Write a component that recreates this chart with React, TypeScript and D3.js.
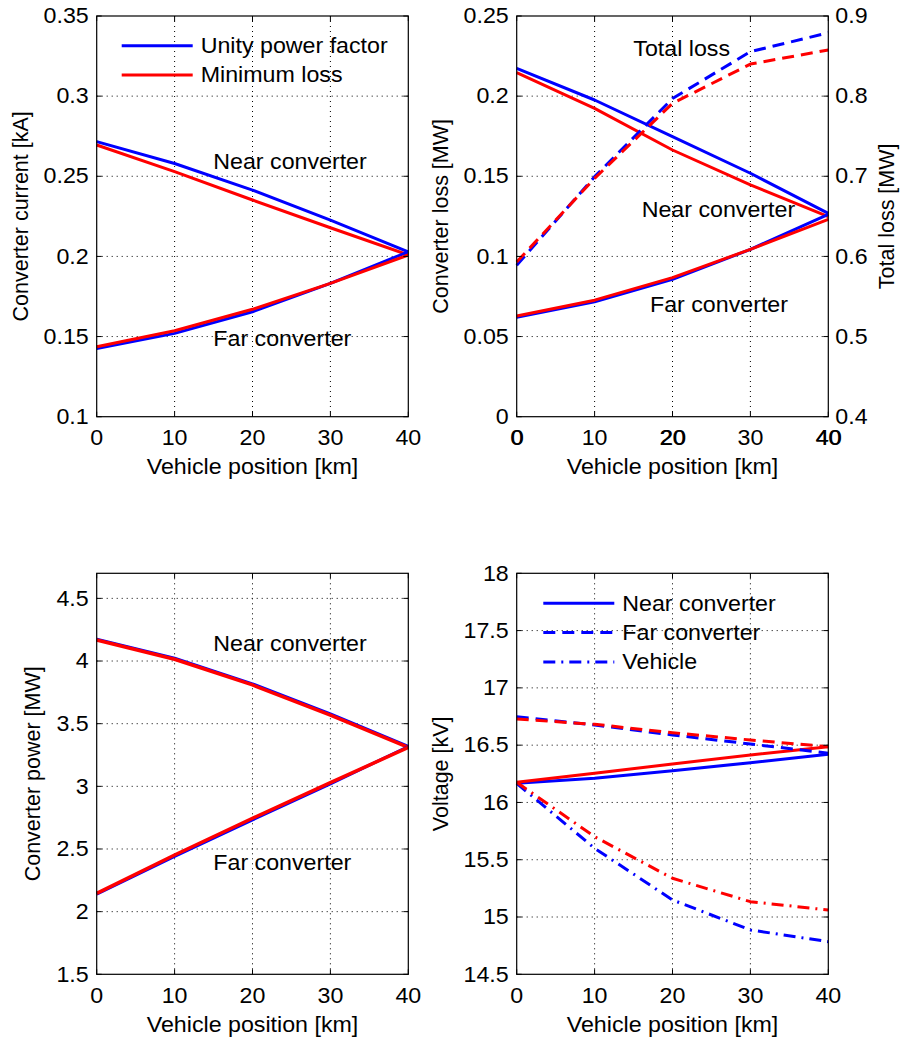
import * as d3 from 'd3';

// vehicle position [km]
const positions = [0, 10, 20, 30, 40];

// converter current [kA]
const currentNearUnity = [0.2716, 0.258, 0.2414, 0.2227, 0.2029];
const currentNearMinLoss = [0.2695, 0.2529, 0.2352, 0.2179, 0.2009];
const currentFarUnity = [0.1426, 0.152, 0.1655, 0.1832, 0.2029];
const currentFarMinLoss = [0.1436, 0.1536, 0.167, 0.1832, 0.2009];

// converter loss [MW]
const lossNearUnity = [0.2173, 0.1976, 0.1747, 0.1519, 0.1269];
const lossNearMinLoss = [0.2146, 0.1924, 0.1664, 0.1446, 0.1248];
const lossFarUnity = [0.062, 0.0717, 0.0857, 0.1044, 0.1262];
const lossFarMinLoss = [0.0628, 0.0727, 0.0868, 0.1044, 0.1231];
// total loss [MW] (right axis)
const totalLossUnity = [0.589, 0.6995, 0.797, 0.8555, 0.879];
const totalLossMinLoss = [0.593, 0.6974, 0.791, 0.84, 0.8576];

// converter power [MW]
const powerNearUnity = [4.175, 4.022, 3.818, 3.578, 3.318];
const powerNearMinLoss = [4.168, 4.014, 3.809, 3.569, 3.311];
const powerFarUnity = [2.14, 2.44, 2.732, 3.02, 3.318];
const powerFarMinLoss = [2.146, 2.452, 2.745, 3.029, 3.311];

// voltage [kV]
const voltNearUnity = [16.167, 16.211, 16.277, 16.347, 16.42];
const voltNearMinLoss = [16.176, 16.254, 16.336, 16.414, 16.487];
const voltFarUnity = [16.749, 16.676, 16.589, 16.51, 16.43];
const voltFarMinLoss = [16.728, 16.682, 16.609, 16.545, 16.487];
const voltVehicleUnity = [16.167, 15.6, 15.149, 14.887, 14.785];
const voltVehicleMinLoss = [16.176, 15.701, 15.338, 15.134, 15.061];

// tick labels
const xTicks = [0, 10, 20, 30, 40];
const currentTicks = [0.1, 0.15, 0.2, 0.25, 0.3, 0.35];
const lossTicks = [0, 0.05, 0.1, 0.15, 0.2, 0.25];
const totalLossTicks = [0.4, 0.5, 0.6, 0.7, 0.8, 0.9];
const totalLossXTicks = [0, 20, 40];
const powerTicks = [1.5, 2, 2.5, 3, 3.5, 4, 4.5];
const voltTicks = [14.5, 15, 15.5, 16, 16.5, 17, 17.5, 18];

const BLUE = '#0000ff';
const RED = '#ff0000';
const FONT = '"Liberation Sans", Arial, Helvetica, sans-serif';
const FS = 21.5;
const SX = 1.08; // reference text looks a bit wide
const DASH = '12,7';
const DASHDOT = '12,6,2,6';

type Series = { values: number[]; color: string; dash?: string; right?: boolean; width?: number };
type Note = { text: string; x: number; y: number };
type LegendItem = { text: string; dash?: string };

function Txt({ x, y, text, anchor = 'start' }: { x: number; y: number; text: string; anchor?: string }) {
  return (
    <text
      transform={`translate(${x},${y}) scale(${SX},1)`}
      textAnchor={anchor}
      dominantBaseline="central"
      fontFamily={FONT}
      fontSize={FS}
      fill="#000"
    >
      {text}
    </text>
  );
}

function Panel(props: {
  left: number; top: number; w: number; h: number;
  yDomain: [number, number]; yTicks: number[]; yLabel: string; yLabelX: number;
  rDomain?: [number, number]; rTicks?: number[]; rLabel?: string; rLabelX?: number; rxTicks?: number[];
  series: Series[]; notes: Note[]; legend?: LegendItem[]; legendColors?: string[];
  legendX?: number; legendY?: number;
}) {
  const { left, top, w, h } = props;
  const x = d3.scaleLinear().domain([0, 40]).range([left, left + w]);
  const y = d3.scaleLinear().domain(props.yDomain).range([top + h, top]);
  const yr = props.rDomain ? d3.scaleLinear().domain(props.rDomain).range([top + h, top]) : null;
  const fmt = (v: number) => String(+v.toFixed(2));
  const T = 5;

  return (
    <g>
      {/* grid */}
      {xTicks.slice(1, -1).map(t => (
        <line key={'gx' + t} x1={x(t)} x2={x(t)} y1={top} y2={top + h} stroke="#000" strokeWidth={1} strokeDasharray="1,4" />
      ))}
      {props.yTicks.filter(t => y(t) > top + 1 && y(t) < top + h - 1).map(t => (
        <line key={'gy' + t} x1={left} x2={left + w} y1={y(t)} y2={y(t)} stroke="#000" strokeWidth={1} strokeDasharray="1,4" />
      ))}

      {/* series */}
      {props.series.map((s, i) => {
        const sc = s.right && yr ? yr : y;
        const line = d3.line<number>().x((_, j) => x(positions[j])).y(v => sc(v));
        return (
          <path key={'s' + i} d={line(s.values) || ''} fill="none" stroke={s.color} strokeWidth={s.width || 3}
            strokeDasharray={s.dash} strokeLinejoin="round" />
        );
      })}

      {/* frame and ticks */}
      <rect x={left} y={top} width={w} height={h} fill="none" stroke="#000" strokeWidth={1.2} />
      {xTicks.map(t => (
        <g key={'tx' + t}>
          <line x1={x(t)} x2={x(t)} y1={top + h} y2={top + h - T} stroke="#000" />
          <line x1={x(t)} x2={x(t)} y1={top} y2={top + T} stroke="#000" />
          <Txt x={x(t)} y={top + h + 21} text={String(t)} anchor="middle" />
        </g>
      ))}
      {props.rxTicks && props.rxTicks.map(t => (
        <Txt key={'rx' + t} x={x(t) + 0.7} y={top + h + 21} text={String(t)} anchor="middle" />
      ))}
      {props.yTicks.map(t => (
        <g key={'ty' + t}>
          <line x1={left} x2={left + T} y1={y(t)} y2={y(t)} stroke="#000" />
          {!yr && <line x1={left + w} x2={left + w - T} y1={y(t)} y2={y(t)} stroke="#000" />}
          <Txt x={left - 8} y={y(t)} text={fmt(t)} anchor="end" />
        </g>
      ))}
      {yr && props.rTicks && props.rTicks.map(t => (
        <g key={'tr' + t}>
          <line x1={left + w} x2={left + w - T} y1={yr(t)} y2={yr(t)} stroke="#000" />
          <Txt x={left + w + 7} y={yr(t)} text={fmt(t)} anchor="start" />
        </g>
      ))}

      {/* axis labels */}
      <Txt x={left + w / 2} y={top + h + 50} text="Vehicle position [km]" anchor="middle" />
      <text transform={`translate(${props.yLabelX},${top + h / 2}) rotate(-90)`} textAnchor="middle"
        dominantBaseline="central" fontFamily={FONT} fontSize={FS}>{props.yLabel}</text>
      {props.rLabel && (
        <text transform={`translate(${props.rLabelX},${top + h / 2}) rotate(-90)`} textAnchor="middle"
          dominantBaseline="central" fontFamily={FONT} fontSize={FS}>{props.rLabel}</text>
      )}

      {/* annotations */}
      {props.notes.map((n, i) => <Txt key={'n' + i} x={n.x} y={n.y} text={n.text} />)}

      {/* legend */}
      {props.legend && props.legend.map((it, i) => {
        const ly = (props.legendY || 0) + i * 29.3;
        const lx = props.legendX || 0;
        return (
          <g key={'l' + i}>
            <line x1={lx} x2={lx + 71} y1={ly} y2={ly} stroke={props.legendColors ? props.legendColors[i] : BLUE}
              strokeWidth={3} strokeDasharray={it.dash} />
            <Txt x={lx + 79} y={ly} text={it.text} />
          </g>
        );
      })}
    </g>
  );
}

export default function App() {
  const w = 311.6;
  const h = 400.7;
  return (
    <svg width={904} height={1040} style={{ display: 'block', background: '#fff', position: 'absolute', left: 0, top: 0 }}>
      <Panel
        left={96.7} top={16} w={w} h={h}
        yDomain={[0.1, 0.35]} yTicks={currentTicks} yLabel="Converter current [kA]" yLabelX={21}
        series={[
          { values: currentNearUnity, color: BLUE },
          { values: currentNearMinLoss, color: RED },
          { values: currentFarUnity, color: BLUE },
          { values: currentFarMinLoss, color: RED },
        ]}
        notes={[
          { text: 'Near converter', x: 213.3, y: 161.7 },
          { text: 'Far converter', x: 213.3, y: 338.3 },
        ]}
        legend={[{ text: 'Unity power factor' }, { text: 'Minimum loss' }]}
        legendColors={[BLUE, RED]}
        legendX={121.7} legendY={45.7}
      />
      <Panel
        left={516.7} top={16} w={w} h={h}
        yDomain={[0, 0.25]} yTicks={lossTicks} yLabel="Converter loss [MW]" yLabelX={440.7}
        rDomain={[0.4, 0.9]} rTicks={totalLossTicks} rLabel="Total loss [MW]" rLabelX={886.7}
        rxTicks={totalLossXTicks}
        series={[
          { values: lossNearUnity, color: BLUE },
          { values: lossNearMinLoss, color: RED },
          { values: lossFarUnity, color: BLUE },
          { values: lossFarMinLoss, color: RED },
          { values: totalLossUnity, color: BLUE, dash: DASH, right: true },
          { values: totalLossMinLoss, color: RED, dash: DASH, right: true },
        ]}
        notes={[
          { text: 'Total loss', x: 633.3, y: 48.3 },
          { text: 'Near converter', x: 641.7, y: 209.3 },
          { text: 'Far converter', x: 650, y: 305 },
        ]}
      />
      <Panel
        left={96.7} top={573.3} w={w} h={401}
        yDomain={[1.5, 4.7]} yTicks={powerTicks} yLabel="Converter power [MW]" yLabelX={33.3}
        series={[
          { values: powerNearUnity, color: BLUE },
          { values: powerNearMinLoss, color: RED, width: 3.5 },
          { values: powerFarUnity, color: BLUE },
          { values: powerFarMinLoss, color: RED, width: 3.5 },
        ]}
        notes={[
          { text: 'Near converter', x: 213.3, y: 643.3 },
          { text: 'Far converter', x: 213.3, y: 862.7 },
        ]}
      />
      <Panel
        left={516.7} top={573.3} w={w} h={401}
        yDomain={[14.5, 18]} yTicks={voltTicks} yLabel="Voltage [kV]" yLabelX={440.7}
        series={[
          { values: voltNearUnity, color: BLUE },
          { values: voltNearMinLoss, color: RED },
          { values: voltFarUnity, color: BLUE, dash: DASH },
          { values: voltFarMinLoss, color: RED, dash: DASH },
          { values: voltVehicleUnity, color: BLUE, dash: DASHDOT },
          { values: voltVehicleMinLoss, color: RED, dash: DASHDOT },
        ]}
        notes={[]}
        legend={[
          { text: 'Near converter' },
          { text: 'Far converter', dash: DASH },
          { text: 'Vehicle', dash: DASHDOT },
        ]}
        legendColors={[BLUE, BLUE, BLUE]}
        legendX={543.3} legendY={603.3}
      />
    </svg>
  );
}
